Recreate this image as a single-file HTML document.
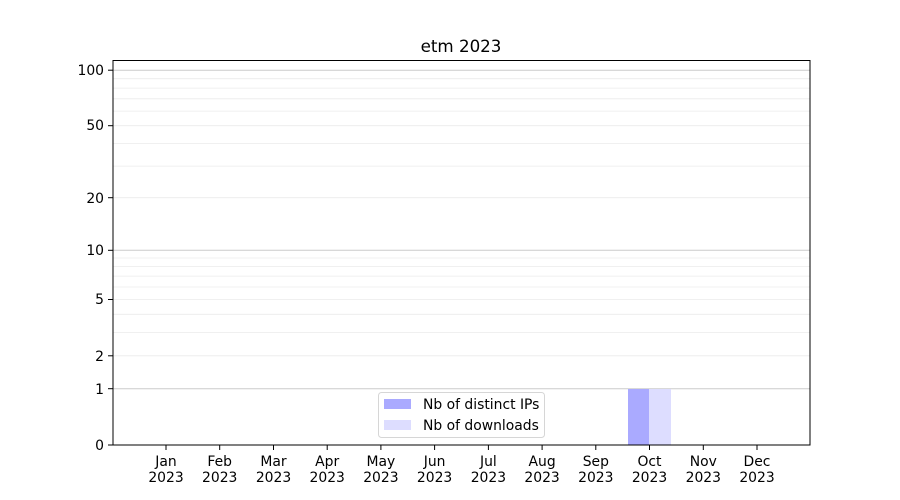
<!DOCTYPE html>
<html><head><style>body{margin:0;background:#fff}svg{display:block}text{font-family:"DejaVu Sans","Liberation Sans",sans-serif;font-size:13.9px;fill:#000}</style></head>
<body>
<svg width="900" height="500" xmlns="http://www.w3.org/2000/svg">
<rect width="900" height="500" fill="#fff"/>
<g stroke="#ebebeb" stroke-width="0.8">
<line x1="113" x2="810" y1="355.8" y2="355.8"/><line x1="113" x2="810" y1="332.4" y2="332.4"/><line x1="113" x2="810" y1="314.3" y2="314.3"/><line x1="113" x2="810" y1="299.5" y2="299.5"/><line x1="113" x2="810" y1="287" y2="287"/><line x1="113" x2="810" y1="276.1" y2="276.1"/><line x1="113" x2="810" y1="266.6" y2="266.6"/><line x1="113" x2="810" y1="258" y2="258"/>
<line x1="113" x2="810" y1="197.7" y2="197.7"/><line x1="113" x2="810" y1="166.1" y2="166.1"/><line x1="113" x2="810" y1="143.4" y2="143.4"/><line x1="113" x2="810" y1="125.7" y2="125.7"/><line x1="113" x2="810" y1="111.1" y2="111.1"/><line x1="113" x2="810" y1="98.8" y2="98.8"/><line x1="113" x2="810" y1="88.1" y2="88.1"/><line x1="113" x2="810" y1="78.7" y2="78.7"/>
</g>
<g stroke="#cccccc" stroke-width="1">
<line x1="113" x2="810" y1="388.7" y2="388.7"/><line x1="113" x2="810" y1="250.3" y2="250.3"/><line x1="113" x2="810" y1="70.2" y2="70.2"/>
</g>
<rect x="628" y="389" width="21" height="56" fill="#aaaaff"/>
<rect x="649" y="389" width="22" height="56" fill="#ddddff"/>
<rect x="113" y="60.5" width="697" height="384.5" fill="none" stroke="#000" stroke-width="1"/>
<g stroke="#000">
<line x1="108" x2="113" y1="445" y2="445"/><line x1="108" x2="113" y1="388.7" y2="388.7"/><line x1="108" x2="113" y1="355.8" y2="355.8"/><line x1="108" x2="113" y1="299.5" y2="299.5"/><line x1="108" x2="113" y1="250.3" y2="250.3"/><line x1="108" x2="113" y1="197.7" y2="197.7"/><line x1="108" x2="113" y1="125.7" y2="125.7"/><line x1="108" x2="113" y1="70.2" y2="70.2"/>
</g>
<g text-anchor="end">
<text x="104" y="450">0</text><text x="104" y="394">1</text><text x="104" y="361">2</text><text x="104" y="304">5</text><text x="104" y="255">10</text><text x="104" y="203">20</text><text x="104" y="130">50</text><text x="104" y="75">100</text>
</g>
<g stroke="#000">
<line x1="166" x2="166" y1="445" y2="450"/><line x1="219.7" x2="219.7" y1="445" y2="450"/><line x1="273.5" x2="273.5" y1="445" y2="450"/><line x1="327.2" x2="327.2" y1="445" y2="450"/><line x1="380.9" x2="380.9" y1="445" y2="450"/><line x1="434.6" x2="434.6" y1="445" y2="450"/><line x1="488.4" x2="488.4" y1="445" y2="450"/><line x1="542.1" x2="542.1" y1="445" y2="450"/><line x1="595.8" x2="595.8" y1="445" y2="450"/><line x1="649.5" x2="649.5" y1="445" y2="450"/><line x1="703.3" x2="703.3" y1="445" y2="450"/><line x1="757" x2="757" y1="445" y2="450"/>
</g>
<g text-anchor="middle">
<text x="166" y="466">Jan</text><text x="166" y="482">2023</text>
<text x="219.7" y="466">Feb</text><text x="219.7" y="482">2023</text>
<text x="273.5" y="466">Mar</text><text x="273.5" y="482">2023</text>
<text x="327.2" y="466">Apr</text><text x="327.2" y="482">2023</text>
<text x="380.9" y="466">May</text><text x="380.9" y="482">2023</text>
<text x="434.6" y="466">Jun</text><text x="434.6" y="482">2023</text>
<text x="488.4" y="466">Jul</text><text x="488.4" y="482">2023</text>
<text x="542.1" y="466">Aug</text><text x="542.1" y="482">2023</text>
<text x="595.8" y="466">Sep</text><text x="595.8" y="482">2023</text>
<text x="649.5" y="466">Oct</text><text x="649.5" y="482">2023</text>
<text x="703.3" y="466">Nov</text><text x="703.3" y="482">2023</text>
<text x="757" y="466">Dec</text><text x="757" y="482">2023</text>
<text x="461" y="52" style="font-size:16.7px">etm 2023</text>
</g>
<rect x="378.5" y="392.5" width="166" height="45" rx="3" fill="#fff" fill-opacity="0.8" stroke="#d6d6d6"/>
<rect x="384" y="399" width="27" height="10" fill="#aaaaff"/>
<rect x="384" y="420" width="27" height="10" fill="#ddddff"/>
<text x="423" y="409">Nb of distinct IPs</text>
<text x="423" y="430">Nb of downloads</text>
</svg>
</body></html>
